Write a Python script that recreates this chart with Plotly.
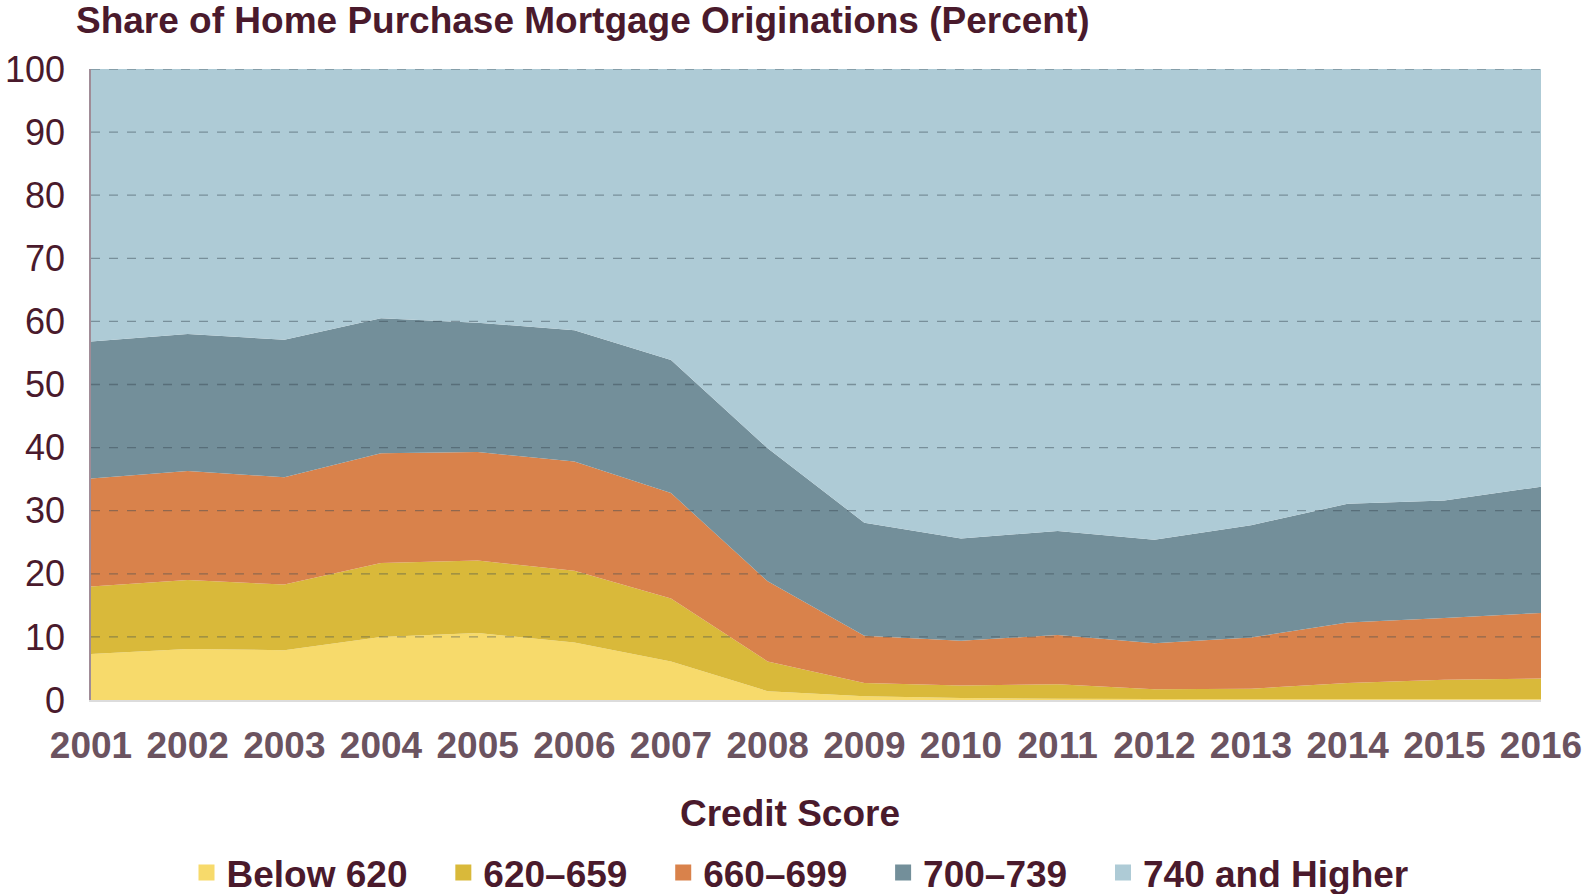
import plotly.graph_objects as go

years = list(range(2001, 2017))
below_620 = [7.3, 8.1, 7.9, 10.0, 10.6, 9.1, 6.1, 1.4, 0.6, 0.3, 0.2, 0.1, 0.1, 0.1, 0.1, 0.1]
s620_659 = [10.7, 10.9, 10.4, 11.7, 11.5, 11.4, 10.0, 4.7, 2.1, 2.0, 2.3, 1.6, 1.7, 2.6, 3.1, 3.3]
s660_699 = [17.1, 17.3, 17.0, 17.4, 17.2, 17.3, 16.7, 12.7, 7.5, 7.1, 7.8, 7.3, 8.1, 9.6, 9.8, 10.4]
s700_739 = [21.7, 21.7, 21.8, 21.4, 20.5, 20.8, 21.1, 21.1, 17.9, 16.2, 16.5, 16.4, 17.8, 18.8, 18.6, 20.0]
s740_up = [43.2, 42.0, 42.9, 39.5, 40.2, 41.4, 46.1, 60.1, 71.9, 74.4, 73.2, 74.6, 72.3, 68.9, 68.4, 66.2]

series_names = ["Below 620", "620–659", "660–699", "700–739", "740 and Higher"]
series_values = [below_620, s620_659, s660_699, s700_739, s740_up]
colors = ["#f7da6b", "#d9b93a", "#d9824b", "#738f9a", "#aecbd6"]
y_ticks = [0, 10, 20, 30, 40, 50, 60, 70, 80, 90, 100]

FONT = "Liberation Sans, Arial, sans-serif"
MAROON = "#4a1a2c"

fig = go.Figure()
for name, vals, col in zip(series_names, series_values, colors):
    fig.add_trace(go.Scatter(
        x=years, y=vals, name=name, stackgroup="one", mode="lines",
        line=dict(width=0, color=col), fillcolor=col, hoverinfo="x+y+name",
        showlegend=False,
    ))
# legend entries with square swatches
pad = "&nbsp;" * 3
for i, (name, col) in enumerate(zip(series_names, colors)):
    label = f"<b>{name}</b>" + (pad if i < len(series_names) - 1 else "")
    fig.add_trace(go.Scatter(
        x=[None], y=[None], mode="markers", name=label,
        marker=dict(symbol="square", size=19, color=col), showlegend=True,
    ))

shapes = []
for t in y_ticks[1:]:
    shapes.append(dict(type="line", xref="paper", yref="y", x0=0, x1=1, y0=t, y1=t,
                       line=dict(color="rgba(55,70,82,0.45)", width=1.3, dash="dash"),
                       layer="above"))

fig.update_layout(
    width=1583, height=894,
    margin=dict(l=91, r=42, t=69, b=194),
    paper_bgcolor="white", plot_bgcolor="white",
    font=dict(family=FONT, color=MAROON),
    title=dict(text="<b>Share of Home Purchase Mortgage Originations (Percent)</b>",
               x=76/1583, xanchor="left", xref="container",
               y=1-20/894, yanchor="middle", yref="container",
               font=dict(size=37, color=MAROON, family=FONT)),
    xaxis=dict(range=[2001, 2016], tickvals=years, ticktext=[f"<b>{y}</b>" for y in years],
               tickfont=dict(size=37, color="#6b5360", family=FONT),
               showgrid=False, zeroline=False, showline=True, linecolor="#dcdcdc", linewidth=1.5,
               ticks="", ticklabelstandoff=12, automargin=False),
    yaxis=dict(range=[0, 100], tickvals=y_ticks,
               tickfont=dict(size=36, color=MAROON, family=FONT),
               showgrid=False, zeroline=False, showline=True, linecolor="#a08c97", linewidth=1.5,
               ticks="", ticklabelstandoff=17, automargin=False),
    shapes=shapes,
    showlegend=True,
    legend=dict(orientation="h", x=800/1583, xanchor="center", xref="container",
                y=1-873/894, yanchor="middle", yref="container",
                font=dict(size=37, color=MAROON, family=FONT), traceorder="normal",
                itemwidth=30, bgcolor="rgba(0,0,0,0)"),
    annotations=[dict(text="<b>Credit Score</b>", xref="paper", yref="paper",
                      x=(790-91)/1450, y=-(813-700)/631, xanchor="center", yanchor="middle",
                      showarrow=False, font=dict(size=37, color=MAROON, family=FONT))],
)

fig.write_html("out.html", config={"displayModeBar": False},
               post_script="document.body.style.margin='0';document.body.style.overflow='hidden';")
